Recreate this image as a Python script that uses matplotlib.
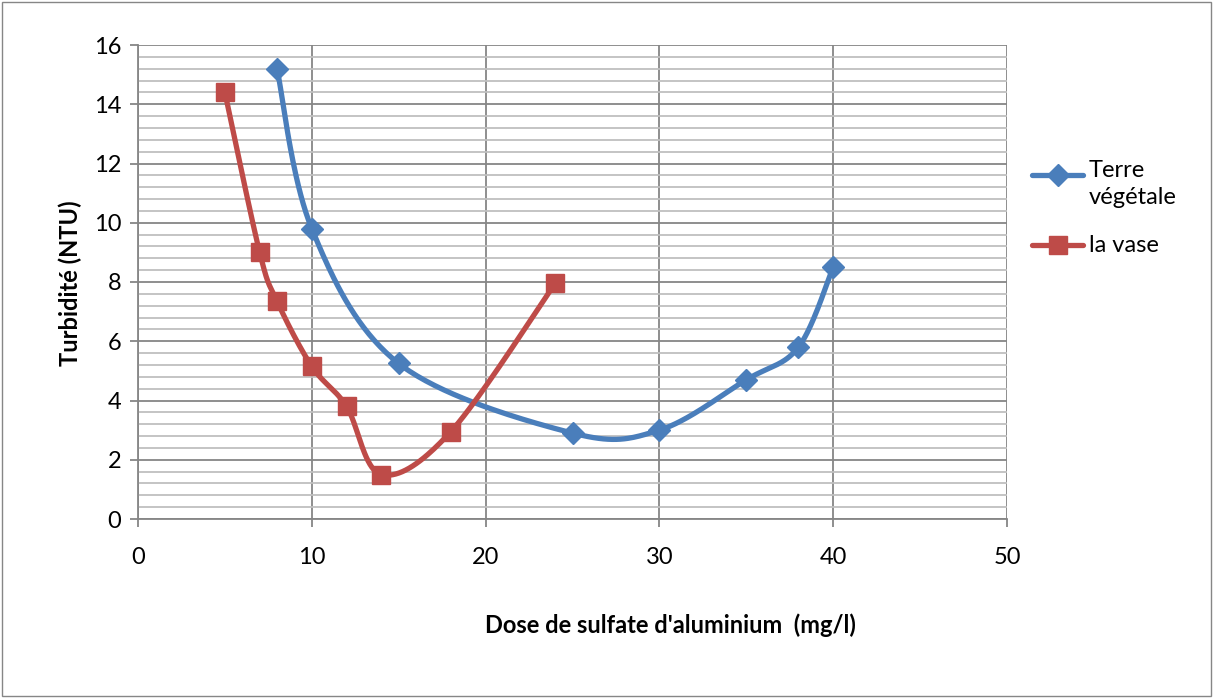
import numpy as np
import matplotlib
matplotlib.use("Agg")
import matplotlib.pyplot as plt
from matplotlib.patches import Rectangle
from matplotlib.lines import Line2D

plt.rcParams['font.family'] = ['Lato', 'DejaVu Sans']

# Dose (mg/l) and turbidity (NTU) for each soil type
dose_terre = [8, 10, 15, 25, 30, 35, 38, 40]
turb_terre = [15.2, 9.8, 5.25, 2.9, 3.0, 4.7, 5.8, 8.5]
dose_vase = [5, 7, 8, 10, 12, 14, 18, 24]
turb_vase = [14.4, 9.0, 7.35, 5.15, 3.8, 1.5, 2.95, 7.95]

label_terre = "Terre\nvégétale"
label_vase = "la vase"
xlabel = "Dose de sulfate d'aluminium  (mg/l)"
ylabel = "Turbidité (NTU)"

BLUE = "#4a7ebb"
RED = "#be4b48"
FS = 17


def smooth(xs, ys, n=40):
    """Bezier smoothing through the points (cardinal-spline control points)."""
    p = np.column_stack([xs, ys]).astype(float)
    pts = np.vstack([p[0], p, p[-1]])
    out = []
    t = np.linspace(0, 1, n)[:, None]
    for i in range(1, len(pts) - 2):
        p0, p1, p2, p3 = pts[i - 1], pts[i], pts[i + 1], pts[i + 2]
        c1 = p1 + (p2 - p0) / 6.0
        c2 = p2 - (p3 - p1) / 6.0
        seg = ((1 - t) ** 3) * p1 + 3 * ((1 - t) ** 2) * t * c1 + 3 * (1 - t) * t ** 2 * c2 + t ** 3 * p2
        out.append(seg if i == 1 else seg[1:])
    s = np.vstack(out)
    return s[:, 0], s[:, 1]


W, H = 1213, 698
fig = plt.figure(figsize=(W / 100, H / 100), dpi=100)
fig.patches.append(Rectangle((2 / W, 2 / H), 1 - 4 / W, 1 - 4 / H, transform=fig.transFigure,
                             fill=False, edgecolor="#868686", linewidth=1.0))

ax = fig.add_axes([138 / W, 1 - 519 / H, (1007 - 138) / W, (519 - 45) / H])
ax.set_xlim(0, 50)
ax.set_ylim(0, 16)
ax.set_xticks(np.arange(0, 51, 10))
ax.set_yticks(np.arange(0, 17, 2))
ax.set_yticks(np.arange(0, 16.01, 0.4), minor=True)
ax.grid(True, which="major", color="#868686", linewidth=1.3)
ax.grid(True, which="minor", axis="y", color="#bfbfbf", linewidth=1.3)
ax.set_axisbelow(True)
for side in ["top", "right"]:
    ax.spines[side].set_visible(False)
for side in ["left", "bottom"]:
    ax.spines[side].set_color("#868686")
    ax.spines[side].set_linewidth(1.3)
ax.tick_params(which="major", length=6, width=1.3, color="#868686", labelsize=FS, pad=6)
ax.tick_params(axis="x", pad=14)
ax.tick_params(which="minor", length=0)

LW = 3.8
sx, sy = smooth(dose_terre, turb_terre)
ax.plot(sx, sy, color=BLUE, linewidth=LW, solid_capstyle="round", zorder=3)
ax.plot(dose_terre, turb_terre, linestyle="none", marker="D", markersize=11,
        color=BLUE, zorder=4)
sx, sy = smooth(dose_vase, turb_vase)
ax.plot(sx, sy, color=RED, linewidth=LW, solid_capstyle="round", zorder=3)
ax.plot(dose_vase, turb_vase, linestyle="none", marker="s", markersize=13,
        color=RED, zorder=4)

# axis titles
fig.text(670 / W, 1 - 625 / H, xlabel, fontsize=FS, fontweight="bold", ha="center", va="center")
fig.text(70 / W, 1 - 283 / H, ylabel, fontsize=FS, fontweight="bold", ha="center", va="center",
         rotation=90)

# legend drawn at the right of the plot area
for yy, col, mk, ms, txt in [(175, BLUE, "D", 11, label_terre), (245, RED, "s", 13, label_vase)]:
    fig.add_artist(Line2D([1032 / W, 1083 / W], [1 - yy / H, 1 - yy / H], transform=fig.transFigure,
                          color=col, linewidth=LW, solid_capstyle="round"))
    fig.add_artist(Line2D([1058 / W], [1 - yy / H], transform=fig.transFigure, color=col,
                          marker=mk, markersize=ms))
fig.text(1089 / W, 1 - 160 / H, label_terre, fontsize=FS, va="top", ha="left", linespacing=1.35)
fig.text(1089 / W, 1 - 245 / H, label_vase, fontsize=FS, va="center", ha="left")

fig.savefig("out.png", dpi=100)
